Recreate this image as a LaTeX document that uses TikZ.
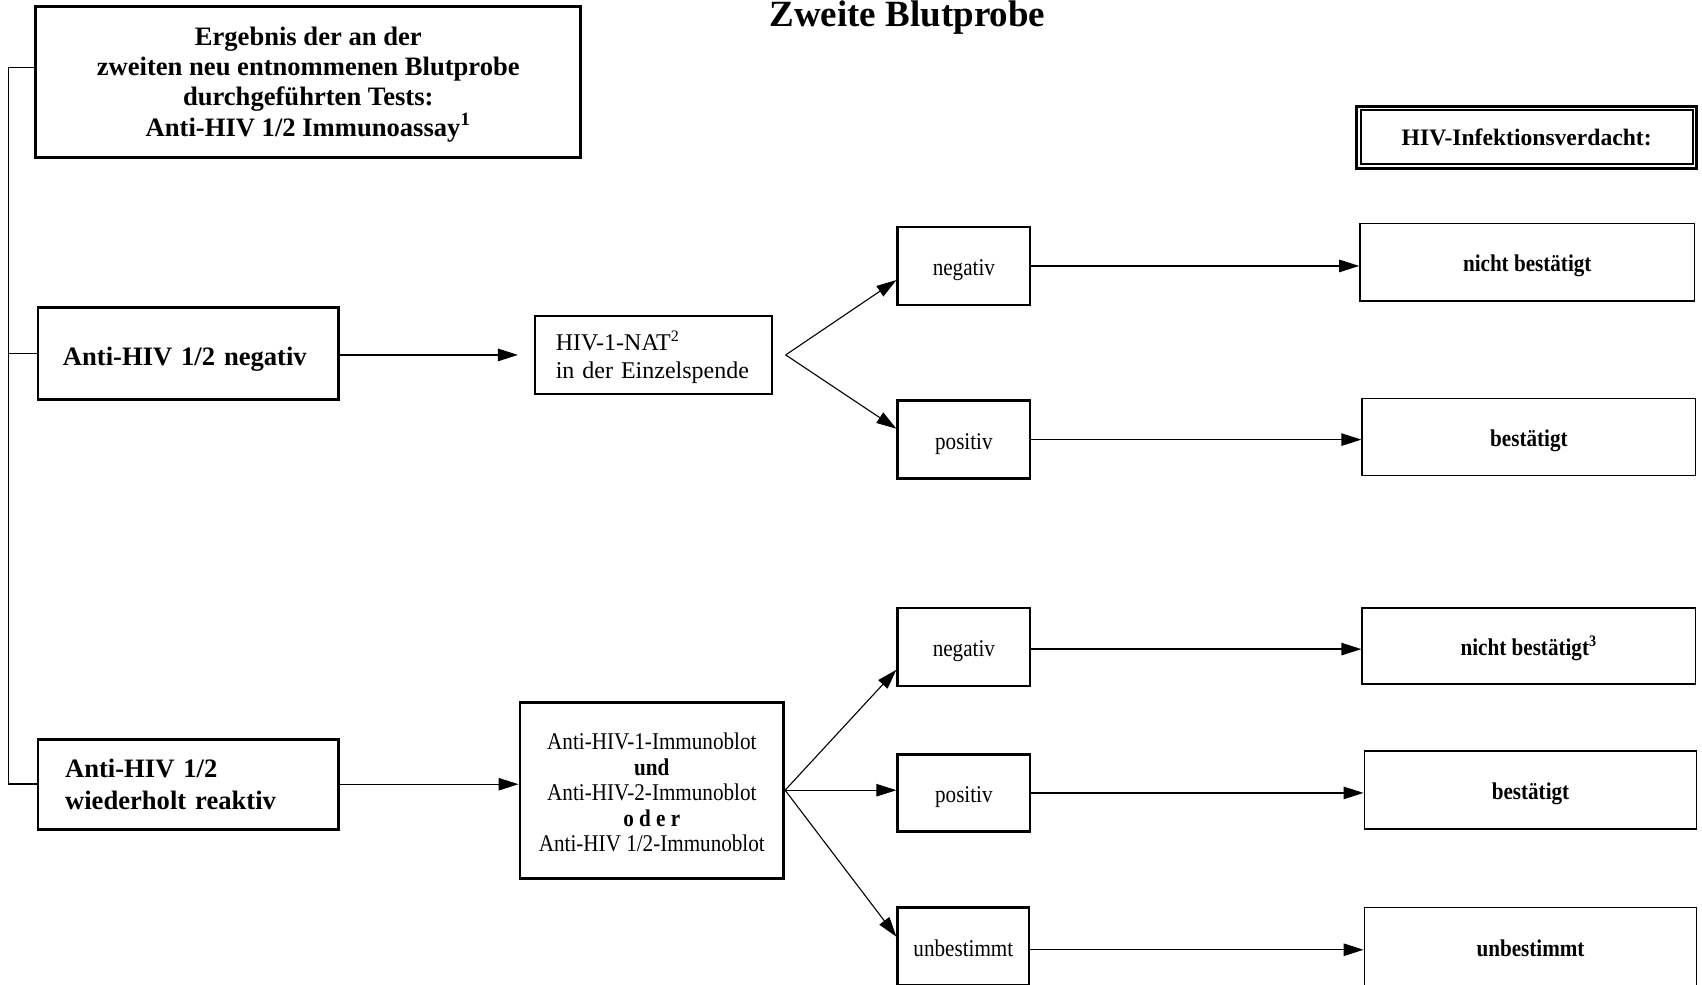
\documentclass[tikz,border=0pt]{standalone}
\usepackage{fontspec}
\setmainfont{Liberation Serif}
\newfontfamily\condfont[FakeStretch=0.88]{Liberation Serif}
\usetikzlibrary{arrows.meta,calc}
\newcommand{\pxu}{0.5427pt}
\begin{document}
\begin{tikzpicture}[x=0.5427pt,y=-0.5427pt,
  sz/.style 2 args={minimum width=#1*\pxu, minimum height=#2*\pxu},
  thickbox/.style={draw, line width=1.4pt, inner sep=0pt},
  oneline/.style={text height=9.6pt, text depth=0pt},
  midbox/.style={draw, line width=1.25pt, inner sep=0pt, oneline, font=\condfont\fontsize{12}{14}\selectfont},
  thinbox/.style={draw, line width=0.9pt, inner sep=0pt},
  resbox/.style={draw, line width=0.85pt, inner sep=0pt, oneline, font=\condfont\fontsize{12}{14}\selectfont\bfseries},
  mainfont/.style={font=\fontsize{13.3}{15.2}\selectfont\bfseries},
  arr/.style={-{Triangle[length=10pt,width=6.2pt]}, line width=0.7pt},
  brarr/.style={-{Triangle[length=10pt,width=6.2pt]}, line width=0.55pt},
  rail/.style={line width=0.75pt}
]
\useasboundingbox (0,0) rectangle (1568,907);
\fill[white] (0,0) rectangle (1568,907);

% title
\node[font=\fontsize{18.5}{22}\selectfont\bfseries, anchor=base, inner sep=0pt] (title) at (836,24) {Zweite Blutprobe};

% left column
\node[thickbox, sz={502}{139}, mainfont, align=center] (top) at (284,75.5)
  {\rule{0pt}{11.7pt}Ergebnis der an der\\zweiten neu entnommenen Blutprobe\\durchgeführten Tests:\\Anti-HIV 1/2 Immunoassay\textsuperscript{1}};
\node[thickbox, sz={277}{85}, mainfont, text height=12.4pt, text depth=0pt, text width=231*\pxu, align=left] (aneg) at (173.5,325.5) {Anti-HIV 1/2 negativ};
\node[thickbox, sz={277}{83}, font=\fontsize{13.3}{15.7}\selectfont\bfseries, text width=227*\pxu, align=left] (arep) at (173.5,722.5) {Anti-HIV 1/2\\wiederholt reaktiv};

% middle tests
\node[thinbox, sz={218}{72}, font=\fontsize{12}{14.1}\selectfont, text width=180*\pxu, align=left] (nat) at (602,327) {\rule{0pt}{12pt}HIV-1-NAT\textsuperscript{2}\\in der Einzelspende};
\node[thickbox, sz={243}{162}, font=\condfont\fontsize{12}{12.75}\selectfont, align=center] (blot) at (600.5,728)
  {\rule{0pt}{10.5pt}Anti-HIV-1-Immunoblot\\\textbf{und}\\Anti-HIV-2-Immunoblot\\\textbf{o d e r}\\Anti-HIV 1/2-Immunoblot};

% results of tests
\node[midbox, sz={122}{72}] (neg1) at (888,245) {negativ};
\node[midbox, sz={122}{72}] (pos1) at (888,405) {positiv};
\node[midbox, sz={122}{72}] (neg2) at (888,596) {negativ};
\node[midbox, sz={122}{71}] (pos2) at (888,730.5) {positiv};
\node[midbox, sz={121}{72}] (unb) at (887.5,872) {unbestimmt};

% header right
\node[draw, line width=1.5pt, inner sep=0pt, sz={313}{57}, font=\fontsize{11.8}{14}\selectfont\bfseries] (verd) at (1406.5,126.5) {HIV-Infektionsverdacht:};
\draw[line width=1pt] ($(verd.north west)+(5,5)$) rectangle ($(verd.south east)+(-5,-5)$);

% final results
\node[resbox, sz={308}{71}] (res1) at (1407,241.5) {nicht bestätigt};
\node[resbox, sz={307}{71}] (res2) at (1408.5,402.5) {bestätigt};
\node[resbox, sz={307}{70}] (res3) at (1408.5,595) {nicht bestätigt\textsuperscript{3}};
\node[resbox, sz={306}{72}] (res4) at (1410,728) {bestätigt};
\node[resbox, sz={306}{72}] (res5) at (1410,872) {unbestimmt};

% left rail
\coordinate (railx) at (8,0);
\coordinate (tl) at ($(top.west)+(0,-13.5)$);
\draw[rail] (tl) -- (tl -| railx) -- (railx |- arep.west) -- (arep.west);
\draw[rail] (aneg.west) -- (aneg.west -| railx);

% arrows to tests
\draw[arr, shorten >=15*\pxu] (aneg.east |- nat.west) -- (nat.west);
\draw[arr] (arep.east) -- (arep.east -| blot.west);

% branches
\coordinate (br1) at ($(nat.east)+(12,0)$);
\draw[brarr] (br1) -- ($(neg1.west)+(0,13)$);
\draw[brarr] (br1) -- ($(pos1.west)+(0,-10)$);
\coordinate (br2) at (blot.east);
\draw[brarr] (br2) -- ($(neg2.west)+(0,21)$);
\draw[brarr] (br2) -- (br2 -| pos2.west);
\draw[brarr] (br2) -- ($(unb.west)+(0,-9)$);

% arrows to final results
\draw[arr] (neg1.east) -- (neg1.east -| res1.west);
\draw[arr] (pos1.east) -- (pos1.east -| res2.west);
\draw[arr] ($(neg2.east)+(0,2)$) coordinate (n2e) -- (n2e -| res3.west);
\draw[arr] (pos2.east) -- (pos2.east -| res4.west);
\draw[arr] ($(unb.east)+(0,3)$) coordinate (ue) -- (ue -| res5.west);
\end{tikzpicture}
\end{document}
